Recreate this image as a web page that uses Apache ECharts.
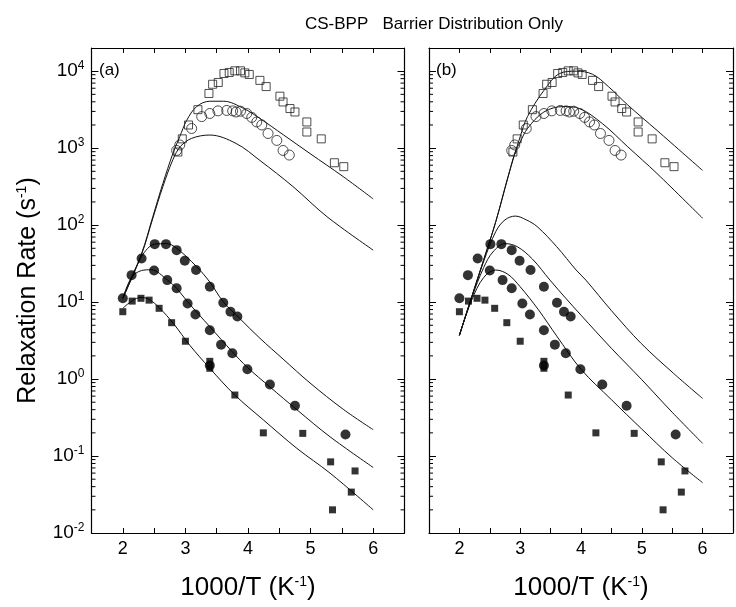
<!DOCTYPE html>
<html>
<head>
<meta charset="utf-8">
<script src="https://cdn.jsdelivr.net/npm/echarts@6/dist/echarts.min.js"></script>
<style>html,body{margin:0;padding:0;background:#fff}#c{width:736px;height:607px}</style>
</head>
<body>
<div id="c"></div>
<script>
// ---- data (x = 1000/T, y = relaxation rate s^-1) ----
const openSquares = [[2.88,890],[2.95,1320],[3.05,2000],[3.2,3160],[3.376,5130],[3.435,6760],[3.525,7130],[3.616,9330],[3.70,9620],[3.79,10100],[3.88,10100],[3.95,9500],[4.02,9060],[4.19,7590],[4.29,6310],[4.51,4730],[4.56,3980],[4.67,3270],[4.75,2950],[4.94,2190],[4.94,1620],[5.17,1320],[5.38,646],[5.53,575]];
const openCircles = [[2.86,933],[2.91,1100],[3.10,1800],[3.26,2570],[3.39,2820],[3.52,3050],[3.66,3090],[3.755,3050],[3.81,2950],[3.88,3020],[3.98,2820],[4.06,2510],[4.14,2190],[4.22,2000],[4.32,1550],[4.46,1260],[4.56,933],[4.66,813]];
const filledCirclesA = [[2.0,11.2],[2.30,36.9],[2.51,56.6],[2.69,56.6],[2.86,47.3],[2.99,34.4],[3.17,26.1],[3.39,15.8],[3.605,9.8],[3.72,7.5],[3.83,6.5],[5.557,0.19]];
const filledCirclesB = [[2.14,22.4],[2.50,25.7],[2.71,19.3],[2.86,15.1],[3.035,9.6],[3.16,6.9],[3.39,4.3],[3.57,2.8],[3.75,2.16],[3.99,1.34],[4.35,0.85],[4.75,0.45],[3.39,1.5]];
const filledSquares = [[2.0,7.5],[2.15,10.3],[2.29,11.2],[2.42,10.6],[2.58,8.3],[2.78,5.4],[3.0,3.1],[3.39,1.7],[3.39,1.38],[3.79,0.62],[4.245,0.2],[4.875,0.197],[5.32,0.084],[5.71,0.064],[5.65,0.034],[5.35,0.02]];

// model curves, panel (a)
const curveA1 = [[2.0,11.2],[2.3,42.7],[2.48,129],[2.64,347],[2.8,851],[2.91,1410],[3.02,2290],[3.18,3470],[3.39,4070],[3.61,4070],[3.93,3280],[4.19,2430],[4.57,1480],[4.99,851],[5.52,427],[6.0,219]];
const curveA2 = [[2.0,11.2],[2.3,41.7],[2.48,123],[2.64,316],[2.8,708],[2.92,1050],[3.1,1340],[3.39,1480],[3.81,1150],[4.19,692],[4.72,316],[5.26,129],[6.0,47.3]];
const curveA3 = [[2.0,11.2],[2.3,38.9],[2.51,56.6],[2.7,57.5],[2.86,50.1],[3.18,28.8],[3.39,18.2],[3.605,10.1],[3.87,6.1],[4.19,3.39],[4.56,1.82],[4.99,0.89],[5.53,0.40],[6.0,0.22]];
const curveA4 = [[2.0,11.2],[2.14,20.9],[2.3,25.7],[2.45,26.3],[2.71,19.5],[2.86,15.1],[3.035,10.1],[3.39,4.79],[3.75,2.26],[3.99,1.42],[4.35,0.79],[4.78,0.40],[5.31,0.178],[6.0,0.071]];
const curveA5 = [[2.0,8.3],[2.15,10.4],[2.29,11.5],[2.42,10.8],[2.58,8.5],[2.81,5.25],[3.07,2.75],[3.39,1.38],[3.79,0.62],[4.245,0.295],[4.78,0.126],[5.31,0.060],[6.0,0.020]];
// model curves, panel (b)
const curveB1 = [[2.0,3.7],[2.2,11.5],[2.4,35.5],[2.6,112],[2.8,427],[3.0,1410],[3.12,2570],[3.39,5620],[3.65,9330],[3.92,10000],[4.19,9120],[4.45,6310],[4.77,3630],[5.25,1700],[6.0,513]];
const curveB2 = [[2.0,3.7],[2.2,11.5],[2.4,35.5],[2.6,112],[2.8,420],[2.92,900],[3.0,1200],[3.12,1800],[3.39,2950],[3.71,3470],[3.97,3280],[4.35,2090],[4.77,1040],[5.25,468],[6.0,123]];
const curveB3 = [[2.0,3.7],[2.2,11.5],[2.4,33.9],[2.6,83],[2.75,117],[2.92,131],[3.1,117],[3.28,95.5],[3.6,52.5],[3.92,26.1],[4.08,19.3],[4.5,7.76],[4.99,2.9],[5.52,1.19],[6.0,0.56]];
const curveB4 = [[2.0,3.7],[2.2,11.2],[2.4,28.2],[2.55,44.7],[2.75,57.5],[2.95,52.5],[3.2,36.3],[3.49,19.3],[3.75,11.2],[4.0,6.76],[4.5,2.51],[5.0,0.98],[5.5,0.37],[6.0,0.146]];
const curveB5 = [[2.0,3.7],[2.2,10.5],[2.4,20.9],[2.6,26.1],[2.8,22.9],[3.0,15.8],[3.3,7.94],[3.6,3.63],[4.0,1.34],[4.5,0.54],[5.0,0.224],[5.5,0.095],[6.0,0.045]];

// minor tick positions of the log axes (2..9 x 10^n)
const minorMantissas = [2, 3, 4, 5, 6, 7, 8, 9];
const minorDecades = [-2, -1, 0, 1, 2, 3, 4];

const titleText = 'CS-BPP   Barrier Distribution Only';
const xName = '1000/T (K{sup|-1})';
const yName = 'Relaxation Rate (s{sup|-1})';

const minorTickValues = [];
minorDecades.forEach(e => minorMantissas.forEach(m => { const v = m * Math.pow(10, e); if (v < 20000) minorTickValues.push([4, v]); }));

const FONT = '"Liberation Sans", Arial, Helvetica, sans-serif';
const chart = echarts.init(document.getElementById('c'), null, {renderer: 'canvas'});

function xAx(grid, pos, labels) {
  return {
    type: 'value', gridIndex: grid, position: pos, min: 1.5, max: 6.5, interval: 0.5,
    axisLine: {show: true, onZero: false, lineStyle: {color: '#000', width: 1.2}},
    axisTick: {show: true, inside: true, length: 5, lineStyle: {color: '#000'}},
    splitLine: {show: false},
    axisLabel: {show: labels, margin: 7, fontFamily: FONT, fontSize: 18, color: '#000',
      formatter: v => (Math.abs(v - Math.round(v)) < 1e-6 && v >= 2 && v <= 6) ? String(Math.round(v)) : ''},
    name: labels ? xName : '', nameLocation: 'middle', nameGap: 42,
    nameTextStyle: {fontFamily: FONT, fontSize: 26, color: '#000', rich: {sup: {fontSize: 14, fontFamily: FONT, color: '#000', padding: [0, 0, 12, 0]}}}
  };
}
function yAx(grid, pos, labels, named) {
  return {
    type: 'log', logBase: 10, gridIndex: grid, position: pos, min: 0.01, max: 20000,
    axisLine: {show: true, onZero: false, lineStyle: {color: '#000', width: 1.2}},
    axisTick: {show: true, inside: true, length: 7, lineStyle: {color: '#000'}},
    splitLine: {show: false},
    axisLabel: {show: labels, margin: 7, color: '#000', fontFamily: FONT,
      formatter: v => { const l = Math.log10(v); const e = Math.round(l); return Math.abs(l - e) < 1e-6 ? '{b|10}{s|' + e + '}' : ''; },
      rich: {b: {fontSize: 19, fontFamily: FONT, color: '#000'}, s: {fontSize: 12, fontFamily: FONT, color: '#000', padding: [0, 0, 10, 0]}}},
    name: named ? yName : '', nameLocation: 'middle', nameGap: 50, nameRotate: 90,
    nameTextStyle: {fontFamily: FONT, fontSize: 25, color: '#000', rich: {sup: {fontSize: 14, fontFamily: FONT, color: '#000', padding: [0, 0, 12, 0]}}}
  };
}

function line(data, xi) {
  return {type: 'line', xAxisIndex: xi, yAxisIndex: xi, data: data, smooth: 0.35, showSymbol: false, symbol: 'none',
    lineStyle: {color: '#111', width: 1}, z: 2, silent: true, animation: false};
}
function pts(data, xi, sym, size, filled) {
  return {type: 'scatter', xAxisIndex: xi, yAxisIndex: xi, data: data, symbol: sym, symbolSize: size, z: 3, silent: true, animation: false,
    itemStyle: filled ? {color: '#000', borderColor: '#000', borderWidth: 0} : {color: 'rgba(255,255,255,0)', borderColor: '#222', borderWidth: 1}};
}
function minorTicks(xi) {
  return {type: 'custom', xAxisIndex: xi, yAxisIndex: xi, data: minorTickValues,
    silent: true, animation: false, z: 5,
    encode: {x: 0, y: 1},
    renderItem: function (params, api) {
      const py = api.coord([api.value(0), api.value(1)])[1];
      const x0 = api.coord([1.5, 1])[0];
      const x1 = api.coord([6.5, 1])[0];
      return {type: 'group', children: [
        {type: 'line', shape: {x1: x0, y1: py, x2: x0 + 4, y2: py}, style: {stroke: '#000', lineWidth: 1}},
        {type: 'line', shape: {x1: x1 - 4, y1: py, x2: x1, y2: py}, style: {stroke: '#000', lineWidth: 1}}
      ]};
    }};
}

const series = [];
[[0, [curveA1, curveA2, curveA3, curveA4, curveA5]], [2, [curveB1, curveB2, curveB3, curveB4, curveB5]]].forEach(([xi, curves]) => {
  curves.forEach(c => series.push(line(c, xi)));
  series.push(pts(openSquares, xi, 'rect', 8, false));
  series.push(pts(openCircles, xi, 'circle', 10, false));
  series.push(pts(filledCirclesA, xi, 'circle', 10, true));
  series.push(pts(filledCirclesB, xi, 'circle', 10, true));
  series.push(pts(filledSquares, xi, 'rect', 7, true));
  series.push(minorTicks(xi));
});

chart.setOption({
  animation: false,
  backgroundColor: '#fff',
  grid: [
    {left: 91.5, top: 48, width: 313, height: 485, containLabel: false},
    {left: 429, top: 48, width: 312.5, height: 485, containLabel: false}
  ],
  xAxis: [xAx(0, 'bottom', true), xAx(0, 'top', false), xAx(1, 'bottom', true), xAx(1, 'top', false)],
  yAxis: [yAx(0, 'left', true, true), yAx(0, 'right', false, false), yAx(1, 'left', false, false), yAx(1, 'right', false, false)],
  graphic: [
    {type: 'text', left: 305, top: 16, style: {text: titleText, font: '17px ' + FONT, fill: '#000'}},
    {type: 'text', left: 99, top: 62, style: {text: '(a)', font: '17px ' + FONT, fill: '#000'}},
    {type: 'text', left: 436, top: 62, style: {text: '(b)', font: '17px ' + FONT, fill: '#000'}}
  ],
  series: series
});
</script>
</body>
</html>
